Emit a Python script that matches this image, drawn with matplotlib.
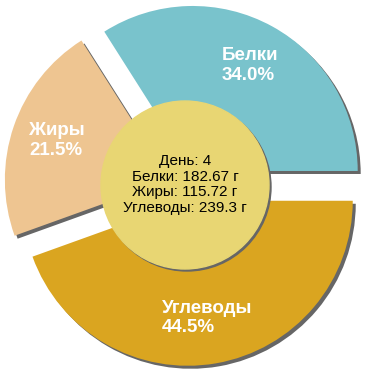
import matplotlib.pyplot as plt

labels = ["Белки", "Жиры", "Углеводы"]
percents = [34.0, 21.5, 44.5]
grams = ["182.67", "115.72", "239.3"]
day = 4
colors = ["#79C3CC", "#EEC591", "#DAA520"]

W = 370
cx, cy = 185, W - 185
R = 165
EXP = 16

fig = plt.figure(figsize=(3.7, 3.7), dpi=100)
ax = fig.add_axes([0, 0, 1, 1])

explode = [EXP] * len(percents)

# shadows
ax.pie(percents, center=(cx + 3, cy - 3), radius=R, explode=explode,
       colors=["#666666"] * 3, startangle=0, counterclock=True, frame=True)
wedges, _ = ax.pie(percents, center=(cx, cy), radius=R, explode=explode,
                   colors=colors, startangle=0, counterclock=True, frame=True)
ax.set_xlim(0, W)
ax.set_ylim(0, W)
ax.set_aspect("equal")
ax.axis("off")

# center disc with shadow
ax.add_patch(plt.Circle((cx + 2, cy - 2), 84, color="#666666"))
ax.add_patch(plt.Circle((cx, cy), 84, color="#E8D673"))

# wedge labels
label_pos = [(222, 65.5), (29, 140.5), (162, 318)]
for lab, p, (x, y) in zip(labels, percents, label_pos):
    ax.text(x, W - y, f"{lab}\n{p:.1f}%", ha="left", va="center",
            color="white", fontsize=13.5, fontweight="bold",
            family="Liberation Sans", linespacing=1.22)

lines = [f"День: {day}"] + [f"{l}: {g} г" for l, g in zip(labels, grams)]
for i, s in enumerate(lines):
    ax.text(cx, W - (161 + i * 15.7), s, ha="center", va="center",
            color="black", fontsize=11, family="Liberation Sans")

fig.savefig("out.png", dpi=100)
